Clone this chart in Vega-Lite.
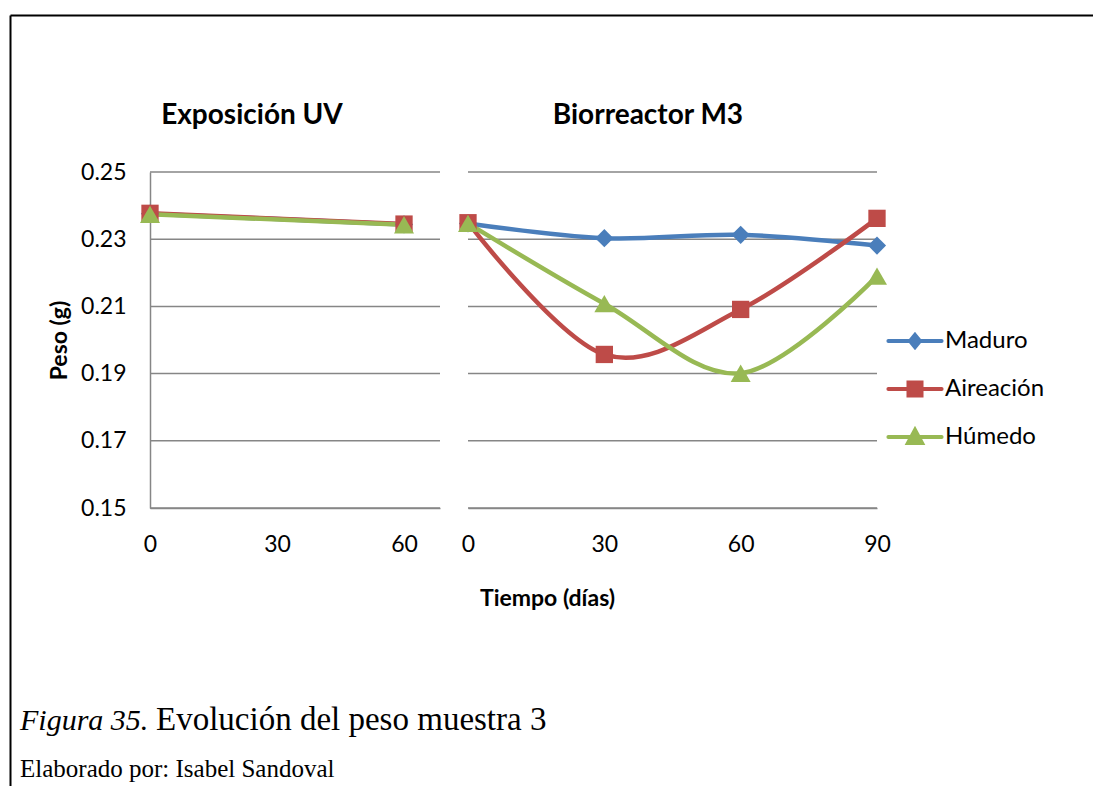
{
  "$schema": "https://vega.github.io/schema/vega-lite/v6.json",
  "autosize": {"type": "none"},
  "width": 1083,
  "height": 771,
  "padding": {"left": 10, "top": 15, "right": 0, "bottom": 0},
  "background": "white",
  "config": {
    "view": {"stroke": null},
    "font": "Lato",
    "axis": {"labelFont": "Lato", "labelFontSize": 23, "labelColor": "black", "domainColor": "#868686", "domainWidth": 1.5, "ticks": false, "tickSize": 0, "grid": false, "titleFont": "Lato", "titleFontSize": 23, "titleFontWeight": "bold", "titleColor": "black", "labelFlush": false},
    "legend": {"title": null, "orient": "none", "legendX": 893, "legendY": 314, "labelFont": "Lato", "labelFontSize": 24, "labelColor": "black", "symbolSize": 196, "symbolStrokeWidth": 4, "labelOffset": 18, "rowPadding": 18, "padding": 0}
  },
  "datasets": {
    "peso": [
      {"panel": "UV", "serie": "Maduro", "dias": 0, "peso": 0.2376},
      {"panel": "UV", "serie": "Maduro", "dias": 60, "peso": 0.2344},
      {"panel": "UV", "serie": "Aireación", "dias": 0, "peso": 0.2377},
      {"panel": "UV", "serie": "Aireación", "dias": 60, "peso": 0.2345},
      {"panel": "UV", "serie": "Húmedo", "dias": 0, "peso": 0.2374},
      {"panel": "UV", "serie": "Húmedo", "dias": 60, "peso": 0.2343},
      {"panel": "M3", "serie": "Maduro", "dias": 0, "peso": 0.2347},
      {"panel": "M3", "serie": "Maduro", "dias": 30, "peso": 0.2303},
      {"panel": "M3", "serie": "Maduro", "dias": 60, "peso": 0.2313},
      {"panel": "M3", "serie": "Maduro", "dias": 90, "peso": 0.2281},
      {"panel": "M3", "serie": "Aireación", "dias": 0, "peso": 0.2349},
      {"panel": "M3", "serie": "Aireación", "dias": 30, "peso": 0.1957},
      {"panel": "M3", "serie": "Aireación", "dias": 60, "peso": 0.2091},
      {"panel": "M3", "serie": "Aireación", "dias": 90, "peso": 0.2362},
      {"panel": "M3", "serie": "Húmedo", "dias": 0, "peso": 0.2347},
      {"panel": "M3", "serie": "Húmedo", "dias": 30, "peso": 0.2108},
      {"panel": "M3", "serie": "Húmedo", "dias": 60, "peso": 0.1901},
      {"panel": "M3", "serie": "Húmedo", "dias": 90, "peso": 0.2190}
    ],
    "grid": [
      {"peso": 0.15}, {"peso": 0.17}, {"peso": 0.19}, {"peso": 0.21}, {"peso": 0.23}, {"peso": 0.25}
    ]
  },
  "resolve": {"scale": {"x": "independent", "y": "independent"}, "axis": {"x": "independent", "y": "independent"}},
  "layer": [
    {
      "data": {"values": []},
      "mark": {"type": "rule"},
      "encoding": {
        "x": {"datum": 0, "type": "quantitative", "scale": {"domain": [0, 1], "range": [0, 1083], "nice": false, "zero": false}, "axis": {"orient": "top", "offset": 0, "title": null, "labels": false, "ticks": false, "values": [], "domainColor": "black", "domainWidth": 2}},
        "y": {"datum": 0, "type": "quantitative", "scale": {"domain": [0, 1], "range": [771, 0], "nice": false, "zero": false}, "axis": {"orient": "left", "offset": 0, "title": null, "labels": false, "ticks": false, "values": [], "domainColor": "black", "domainWidth": 2}}
      }
    },
    {
      "layer": [
        {
          "data": {"name": "grid"},
          "mark": {"type": "rule", "color": "#868686", "strokeWidth": 1.5},
          "encoding": {
            "y": {"field": "peso", "type": "quantitative", "scale": {"domain": [0.15, 0.25], "range": [493, 157], "nice": false, "zero": false}, "axis": {"orient": "left", "title": "Peso (g)", "values": [0.15, 0.17, 0.19, 0.21, 0.23, 0.25], "format": ".2f", "offset": -140, "labelPadding": 24, "titleX": -91, "titleY": 325, "titleAngle": -90, "titleAlign": "center", "titleBaseline": "middle"}},
            "x": {"datum": 0, "type": "quantitative", "scale": {"domain": [0, 68.5], "range": [140, 430], "nice": false, "zero": false}, "axis": {"title": null, "values": [0, 30, 60], "offset": -278, "labelPadding": 25, "orient": "bottom"}},
            "x2": {"datum": 68.5}
          }
        },
        {
          "data": {"name": "peso"},
          "transform": [{"filter": "datum.panel === 'UV'"}],
          "mark": {"type": "line", "strokeWidth": 4.5, "interpolate": "cardinal", "tension": 0},
          "encoding": {
            "x": {"field": "dias", "type": "quantitative", "scale": {"domain": [0, 68.5], "range": [140, 430], "nice": false, "zero": false}, "axis": {"title": null, "values": [0, 30, 60], "offset": -278, "labelPadding": 25, "orient": "bottom"}},
            "y": {"field": "peso", "type": "quantitative", "scale": {"domain": [0.15, 0.25], "range": [493, 157], "nice": false, "zero": false}, "axis": {"orient": "left", "title": "Peso (g)", "values": [0.15, 0.17, 0.19, 0.21, 0.23, 0.25], "format": ".2f", "offset": -140, "labelPadding": 24, "titleX": -91, "titleY": 325, "titleAngle": -90, "titleAlign": "center", "titleBaseline": "middle"}},
            "color": {"field": "serie", "type": "nominal", "scale": {"domain": ["Maduro", "Aireación", "Húmedo"], "range": ["#4A7EBB", "#BE4B48", "#98B954"]},
              "legend": {"encode": {"symbols": {"update": {
                "shape": {"signal": "datum.value === 'Maduro' ? 'M-3.8,0H3.8M0,-0.86L0.71,0L0,0.86L-0.71,0Z' : datum.value === 'Aireación' ? 'M-3.8,0H3.8M-0.93,-0.93H0.93V0.93H-0.93Z' : 'M-3.8,0H3.8M0,-1L1,0.86L-1,0.86Z'"},
                "fill": {"scale": "color", "field": "value"},
                "stroke": {"scale": "color", "field": "value"},
                "strokeWidth": {"value": 4},
                "strokeCap": {"value": "round"},
                "opacity": {"value": 1}
              }}}}}
          }
        },
        {
          "data": {"name": "peso"},
          "transform": [{"filter": "datum.panel === 'UV' && datum.serie === 'Maduro'"}],
          "mark": {"type": "point", "filled": true, "opacity": 1, "shape": "diamond", "size": 330},
          "encoding": {
            "x": {"field": "dias", "type": "quantitative", "scale": {"domain": [0, 68.5], "range": [140, 430], "nice": false, "zero": false}, "axis": {"title": null, "values": [0, 30, 60], "offset": -278, "labelPadding": 25, "orient": "bottom"}},
            "y": {"field": "peso", "type": "quantitative", "scale": {"domain": [0.15, 0.25], "range": [493, 157], "nice": false, "zero": false}, "axis": {"orient": "left", "title": "Peso (g)", "values": [0.15, 0.17, 0.19, 0.21, 0.23, 0.25], "format": ".2f", "offset": -140, "labelPadding": 24, "titleX": -91, "titleY": 325, "titleAngle": -90, "titleAlign": "center", "titleBaseline": "middle"}},
            "color": {"field": "serie", "type": "nominal"}
          }
        },
        {
          "data": {"name": "peso"},
          "transform": [{"filter": "datum.panel === 'UV' && datum.serie === 'Aireación'"}],
          "mark": {"type": "point", "filled": true, "opacity": 1, "shape": "square", "size": 300},
          "encoding": {
            "x": {"field": "dias", "type": "quantitative", "scale": {"domain": [0, 68.5], "range": [140, 430], "nice": false, "zero": false}, "axis": {"title": null, "values": [0, 30, 60], "offset": -278, "labelPadding": 25, "orient": "bottom"}},
            "y": {"field": "peso", "type": "quantitative", "scale": {"domain": [0.15, 0.25], "range": [493, 157], "nice": false, "zero": false}, "axis": {"orient": "left", "title": "Peso (g)", "values": [0.15, 0.17, 0.19, 0.21, 0.23, 0.25], "format": ".2f", "offset": -140, "labelPadding": 24, "titleX": -91, "titleY": 325, "titleAngle": -90, "titleAlign": "center", "titleBaseline": "middle"}},
            "color": {"field": "serie", "type": "nominal"}
          }
        },
        {
          "data": {"name": "peso"},
          "transform": [{"filter": "datum.panel === 'UV' && datum.serie === 'Húmedo'"}],
          "mark": {"type": "point", "filled": true, "opacity": 1, "shape": "triangle-up", "size": 400},
          "encoding": {
            "x": {"field": "dias", "type": "quantitative", "scale": {"domain": [0, 68.5], "range": [140, 430], "nice": false, "zero": false}, "axis": {"title": null, "values": [0, 30, 60], "offset": -278, "labelPadding": 25, "orient": "bottom"}},
            "y": {"field": "peso", "type": "quantitative", "scale": {"domain": [0.15, 0.25], "range": [493, 157], "nice": false, "zero": false}, "axis": {"orient": "left", "title": "Peso (g)", "values": [0.15, 0.17, 0.19, 0.21, 0.23, 0.25], "format": ".2f", "offset": -140, "labelPadding": 24, "titleX": -91, "titleY": 325, "titleAngle": -90, "titleAlign": "center", "titleBaseline": "middle"}},
            "color": {"field": "serie", "type": "nominal"}
          }
        },
        {
          "data": {"values": [{"titulo": "Exposición UV"}]},
          "mark": {"type": "text", "font": "Lato", "fontSize": 28, "fontWeight": "bold", "align": "center", "baseline": "alphabetic", "color": "black"},
          "encoding": {
            "text": {"field": "titulo"},
            "x": {"datum": 24.09, "type": "quantitative", "scale": {"domain": [0, 68.5], "range": [140, 430], "nice": false, "zero": false}, "axis": {"title": null, "values": [0, 30, 60], "offset": -278, "labelPadding": 25, "orient": "bottom"}},
            "y": {"datum": 0.2643, "type": "quantitative", "scale": {"domain": [0.15, 0.25], "range": [493, 157], "nice": false, "zero": false}, "axis": {"orient": "left", "title": "Peso (g)", "values": [0.15, 0.17, 0.19, 0.21, 0.23, 0.25], "format": ".2f", "offset": -140, "labelPadding": 24, "titleX": -91, "titleY": 325, "titleAngle": -90, "titleAlign": "center", "titleBaseline": "middle"}}
          }
        },
        {
          "data": {"values": [{"texto": "Figura 35."}]},
          "mark": {"type": "text", "font": "Liberation Serif", "fontSize": 30, "fontStyle": "italic", "align": "left", "baseline": "alphabetic", "color": "black"},
          "encoding": {
            "text": {"field": "texto"},
            "x": {"datum": -30.71, "type": "quantitative", "scale": {"domain": [0, 68.5], "range": [140, 430], "nice": false, "zero": false}, "axis": {"title": null, "values": [0, 30, 60], "offset": -278, "labelPadding": 25, "orient": "bottom"}},
            "y": {"datum": 0.0839, "type": "quantitative", "scale": {"domain": [0.15, 0.25], "range": [493, 157], "nice": false, "zero": false}, "axis": {"orient": "left", "title": "Peso (g)", "values": [0.15, 0.17, 0.19, 0.21, 0.23, 0.25], "format": ".2f", "offset": -140, "labelPadding": 24, "titleX": -91, "titleY": 325, "titleAngle": -90, "titleAlign": "center", "titleBaseline": "middle"}}
          }
        },
        {
          "data": {"values": [{"texto": "Evolución del peso muestra 3"}]},
          "mark": {"type": "text", "font": "Liberation Serif", "fontSize": 33, "align": "left", "baseline": "alphabetic", "color": "black"},
          "encoding": {
            "text": {"field": "texto"},
            "x": {"datum": 1.42, "type": "quantitative", "scale": {"domain": [0, 68.5], "range": [140, 430], "nice": false, "zero": false}, "axis": {"title": null, "values": [0, 30, 60], "offset": -278, "labelPadding": 25, "orient": "bottom"}},
            "y": {"datum": 0.0839, "type": "quantitative", "scale": {"domain": [0.15, 0.25], "range": [493, 157], "nice": false, "zero": false}, "axis": {"orient": "left", "title": "Peso (g)", "values": [0.15, 0.17, 0.19, 0.21, 0.23, 0.25], "format": ".2f", "offset": -140, "labelPadding": 24, "titleX": -91, "titleY": 325, "titleAngle": -90, "titleAlign": "center", "titleBaseline": "middle"}}
          }
        },
        {
          "data": {"values": [{"texto": "Elaborado por: Isabel Sandoval"}]},
          "mark": {"type": "text", "font": "Liberation Serif", "fontSize": 25, "align": "left", "baseline": "alphabetic", "color": "black"},
          "encoding": {
            "text": {"field": "texto"},
            "x": {"datum": -30.71, "type": "quantitative", "scale": {"domain": [0, 68.5], "range": [140, 430], "nice": false, "zero": false}, "axis": {"title": null, "values": [0, 30, 60], "offset": -278, "labelPadding": 25, "orient": "bottom"}},
            "y": {"datum": 0.06994, "type": "quantitative", "scale": {"domain": [0.15, 0.25], "range": [493, 157], "nice": false, "zero": false}, "axis": {"orient": "left", "title": "Peso (g)", "values": [0.15, 0.17, 0.19, 0.21, 0.23, 0.25], "format": ".2f", "offset": -140, "labelPadding": 24, "titleX": -91, "titleY": 325, "titleAngle": -90, "titleAlign": "center", "titleBaseline": "middle"}}
          }
        }
      ]
    },
    {
      "layer": [
        {
          "data": {"name": "grid"},
          "mark": {"type": "rule", "color": "#868686", "strokeWidth": 1.5},
          "encoding": {
            "y": {"field": "peso", "type": "quantitative", "scale": {"domain": [0.15, 0.25], "range": [493, 157], "nice": false, "zero": false}, "axis": null},
            "x": {"datum": 0, "type": "quantitative", "scale": {"domain": [0, 90], "range": [458, 867], "nice": false, "zero": false}, "axis": {"title": "Tiempo (días)", "values": [0, 30, 60, 90], "offset": -278, "labelPadding": 25, "orient": "bottom", "titleX": 537, "titleY": 97, "titleAlign": "center", "titleBaseline": "alphabetic"}},
            "x2": {"datum": 90}
          }
        },
        {
          "data": {"name": "peso"},
          "transform": [{"filter": "datum.panel === 'M3'"}],
          "mark": {"type": "line", "strokeWidth": 4.5, "interpolate": "cardinal", "tension": 0},
          "encoding": {
            "x": {"field": "dias", "type": "quantitative", "scale": {"domain": [0, 90], "range": [458, 867], "nice": false, "zero": false}, "axis": {"title": "Tiempo (días)", "values": [0, 30, 60, 90], "offset": -278, "labelPadding": 25, "orient": "bottom", "titleX": 537, "titleY": 97, "titleAlign": "center", "titleBaseline": "alphabetic"}},
            "y": {"field": "peso", "type": "quantitative", "scale": {"domain": [0.15, 0.25], "range": [493, 157], "nice": false, "zero": false}, "axis": null},
            "color": {"field": "serie", "type": "nominal", "scale": {"domain": ["Maduro", "Aireación", "Húmedo"], "range": ["#4A7EBB", "#BE4B48", "#98B954"]},
              "legend": {"encode": {"symbols": {"update": {
                "shape": {"signal": "datum.value === 'Maduro' ? 'M-3.8,0H3.8M0,-0.86L0.71,0L0,0.86L-0.71,0Z' : datum.value === 'Aireación' ? 'M-3.8,0H3.8M-0.93,-0.93H0.93V0.93H-0.93Z' : 'M-3.8,0H3.8M0,-1L1,0.86L-1,0.86Z'"},
                "fill": {"scale": "color", "field": "value"},
                "stroke": {"scale": "color", "field": "value"},
                "strokeWidth": {"value": 4},
                "strokeCap": {"value": "round"},
                "opacity": {"value": 1}
              }}}}}
          }
        },
        {
          "data": {"name": "peso"},
          "transform": [{"filter": "datum.panel === 'M3' && datum.serie === 'Maduro'"}],
          "mark": {"type": "point", "filled": true, "opacity": 1, "shape": "diamond", "size": 330},
          "encoding": {
            "x": {"field": "dias", "type": "quantitative", "scale": {"domain": [0, 90], "range": [458, 867], "nice": false, "zero": false}, "axis": {"title": "Tiempo (días)", "values": [0, 30, 60, 90], "offset": -278, "labelPadding": 25, "orient": "bottom", "titleX": 537, "titleY": 97, "titleAlign": "center", "titleBaseline": "alphabetic"}},
            "y": {"field": "peso", "type": "quantitative", "scale": {"domain": [0.15, 0.25], "range": [493, 157], "nice": false, "zero": false}, "axis": null},
            "color": {"field": "serie", "type": "nominal"}
          }
        },
        {
          "data": {"name": "peso"},
          "transform": [{"filter": "datum.panel === 'M3' && datum.serie === 'Aireación'"}],
          "mark": {"type": "point", "filled": true, "opacity": 1, "shape": "square", "size": 300},
          "encoding": {
            "x": {"field": "dias", "type": "quantitative", "scale": {"domain": [0, 90], "range": [458, 867], "nice": false, "zero": false}, "axis": {"title": "Tiempo (días)", "values": [0, 30, 60, 90], "offset": -278, "labelPadding": 25, "orient": "bottom", "titleX": 537, "titleY": 97, "titleAlign": "center", "titleBaseline": "alphabetic"}},
            "y": {"field": "peso", "type": "quantitative", "scale": {"domain": [0.15, 0.25], "range": [493, 157], "nice": false, "zero": false}, "axis": null},
            "color": {"field": "serie", "type": "nominal"}
          }
        },
        {
          "data": {"name": "peso"},
          "transform": [{"filter": "datum.panel === 'M3' && datum.serie === 'Húmedo'"}],
          "mark": {"type": "point", "filled": true, "opacity": 1, "shape": "triangle-up", "size": 400},
          "encoding": {
            "x": {"field": "dias", "type": "quantitative", "scale": {"domain": [0, 90], "range": [458, 867], "nice": false, "zero": false}, "axis": {"title": "Tiempo (días)", "values": [0, 30, 60, 90], "offset": -278, "labelPadding": 25, "orient": "bottom", "titleX": 537, "titleY": 97, "titleAlign": "center", "titleBaseline": "alphabetic"}},
            "y": {"field": "peso", "type": "quantitative", "scale": {"domain": [0.15, 0.25], "range": [493, 157], "nice": false, "zero": false}, "axis": null},
            "color": {"field": "serie", "type": "nominal"}
          }
        },
        {
          "data": {"values": [{"titulo": "Biorreactor M3"}]},
          "mark": {"type": "text", "font": "Lato", "fontSize": 28, "fontWeight": "bold", "align": "center", "baseline": "alphabetic", "color": "black"},
          "encoding": {
            "text": {"field": "titulo"},
            "x": {"datum": 39.6, "type": "quantitative", "scale": {"domain": [0, 90], "range": [458, 867], "nice": false, "zero": false}, "axis": {"title": "Tiempo (días)", "values": [0, 30, 60, 90], "offset": -278, "labelPadding": 25, "orient": "bottom", "titleX": 537, "titleY": 97, "titleAlign": "center", "titleBaseline": "alphabetic"}},
            "y": {"datum": 0.2643, "type": "quantitative", "scale": {"domain": [0.15, 0.25], "range": [493, 157], "nice": false, "zero": false}, "axis": null}
          }
        }
      ]
    }
  ]
}
